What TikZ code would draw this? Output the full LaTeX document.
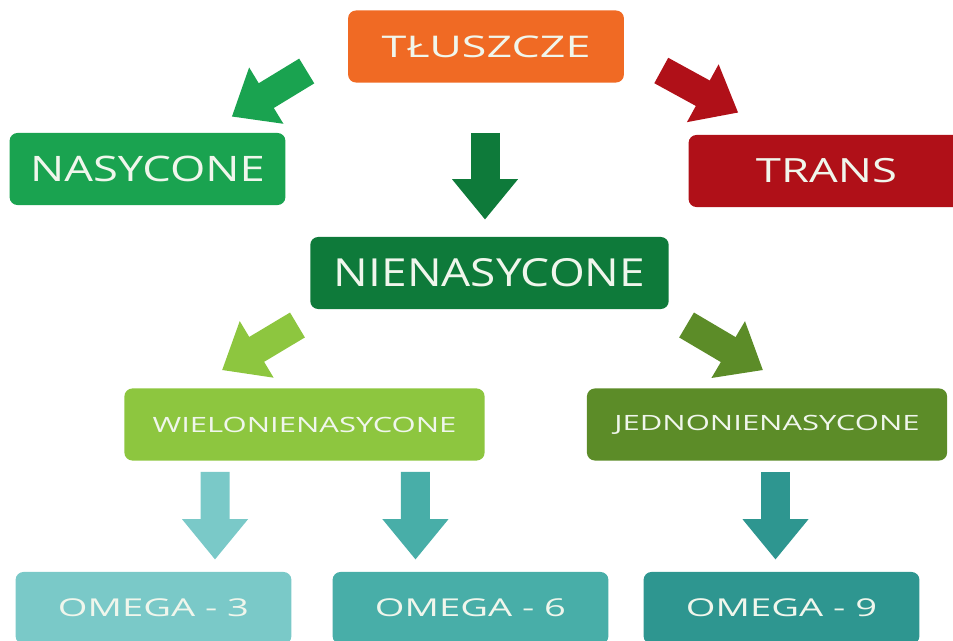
\documentclass[tikz,border=0pt]{standalone}
\usepackage{fontspec}
\setmainfont{Open Sans}
\newfontfamily\fsT[FakeStretch=1.5]{Open Sans}
\newfontfamily\fsN[FakeStretch=1.29]{Open Sans}
\newfontfamily\fsR[FakeStretch=1.36]{Open Sans}
\newfontfamily\fsNI[FakeStretch=1.19]{Open Sans}
\newfontfamily\fsW[FakeStretch=1.47]{Open Sans}
\newfontfamily\fsO[FakeStretch=1.55]{Open Sans}
\usetikzlibrary{arrows.meta}

\definecolor{orangeT}{RGB}{240,106,36}
\definecolor{greenN}{RGB}{26,163,80}
\definecolor{darkN}{RGB}{14,122,58}
\definecolor{redT}{RGB}{176,16,24}
\definecolor{lightW}{RGB}{141,198,63}
\definecolor{oliveJ}{RGB}{92,140,40}
\definecolor{tealA}{RGB}{122,201,200}
\definecolor{tealB}{RGB}{72,174,168}
\definecolor{tealC}{RGB}{46,150,144}
\definecolor{txt}{RGB}{240,246,236}

\begin{document}
\begin{tikzpicture}[x=0.02cm,y=-0.02cm,
    box/.style={rounded corners=4.5pt,text=txt,minimum height=41pt,inner sep=0pt},
    big/.style={box,minimum width=157pt},
    small/.style={box,minimum width=205pt,font=\fsW\fontsize{12}{14}\selectfont},
    omega/.style={big,font=\fsO\fontsize{14}{17}\selectfont},
    fat/.style={draw=#1,line width=16.5pt,-{Triangle[width=36pt,length=23pt]}}]
  \clip (0,0) rectangle (953,641);

  \node[big,fill=orangeT,font=\fsT\fontsize{17}{20}\selectfont] (T) at (486,46.5) {TŁUSZCZE};
  \node[big,fill=greenN,font=\fsN\fontsize{20}{24}\selectfont] (N) at (147.5,169) {NASYCONE};
  \node[big,fill=redT,font=\fsR\fontsize{19}{22}\selectfont] (TR) at (826.5,171) {TRANS};
  \node[big,fill=darkN,minimum width=204pt,font=\fsNI\fontsize{22}{26}\selectfont] (NI) at (489.5,273) {NIENASYCONE};
  \node[small,fill=lightW] (W) at (304.5,424.5) {WIELONIENASYCONE};
  \node[small,fill=oliveJ] (J) at (767,424.5) {JEDNONIENASYCONE};
  \node[omega,fill=tealA] (O3) at (153.5,608) {OMEGA - 3};
  \node[omega,fill=tealB] (O6) at (470.5,608) {OMEGA - 6};
  \node[omega,fill=tealC] (O9) at (781.5,608) {OMEGA - 9};

  % strzalki
  \draw[fat=greenN] ([shift={(-41,24.5)}]T.west) -- ([shift={(-54,-16)}]N.north east);
  \draw[fat=darkN] ([shift={(-1,50)}]T.south) -- ([shift={(-4.5,-17)}]NI.north);
  \draw[fat=redT] ([shift={(37,24)}]T.east) -- ([shift={(50,-22)}]TR.north west);
  \draw[fat=lightW] ([shift={(-12.5,52)}]NI.west) -- ([shift={(-82.5,-18)}]W.north);
  \draw[fat=oliveJ] ([shift={(17.5,52)}]NI.east) -- ([shift={(-4,-18)}]J.north);
  \draw[fat=tealA] ([shift={(91,11)}]W.south west) -- ([shift={(61.5,-12)}]O3.north);
  \draw[fat=tealB] ([shift={(-69.5,11)}]W.south east) -- ([shift={(-55,-12)}]O6.north);
  \draw[fat=tealC] ([shift={(8.5,11)}]J.south) -- ([shift={(-6,-12)}]O9.north);
\end{tikzpicture}
\end{document}
